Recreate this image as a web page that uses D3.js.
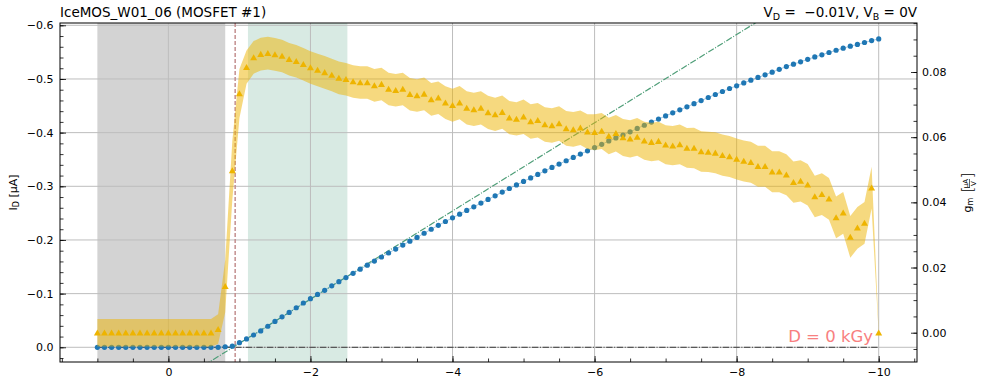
<!DOCTYPE html>
<html>
<head>
	<meta charset="utf-8">
	<script src="https://cdnjs.cloudflare.com/ajax/libs/d3/7.8.5/d3.min.js"></script>
	<style>
		html, body {
			padding: 0;
			margin: 0;
			background: white;
		}
		svg {
			display: block;
			font-family: "DejaVu Sans", sans-serif;
		}
	</style>
</head>
<body>
<script>
	var width = 996, height = 379;

	// ~ ~ ~ DATA ~ ~ ~
	var VG = [
		1.0, 0.9, 0.8, 0.7, 0.6, 0.5, 0.4, 0.3, 0.2, 0.1,
		0.0, -0.1, -0.2, -0.3, -0.4, -0.5, -0.6, -0.7, -0.8, -0.9,
		-1.0, -1.1, -1.2, -1.3, -1.4, -1.5, -1.6, -1.7, -1.8, -1.9,
		-2.0, -2.1, -2.2, -2.3, -2.4, -2.5, -2.6, -2.7, -2.8, -2.9,
		-3.0, -3.1, -3.2, -3.3, -3.4, -3.5, -3.6, -3.7, -3.8, -3.9,
		-4.0, -4.1, -4.2, -4.3, -4.4, -4.5, -4.6, -4.7, -4.8, -4.9,
		-5.0, -5.1, -5.2, -5.3, -5.4, -5.5, -5.6, -5.7, -5.8, -5.9,
		-6.0, -6.1, -6.2, -6.3, -6.4, -6.5, -6.6, -6.7, -6.8, -6.9,
		-7.0, -7.1, -7.2, -7.3, -7.4, -7.5, -7.6, -7.7, -7.8, -7.9,
		-8.0, -8.1, -8.2, -8.3, -8.4, -8.5, -8.6, -8.7, -8.8, -8.9,
		-9.0, -9.1, -9.2, -9.3, -9.4, -9.5, -9.6, -9.7, -9.8, -9.9,
		-10.0
	];

	// drain current [uA]
	var ID = [
		0, 0, 0, 0, 0, 0, 0, 0, 0, 0,
		0, 0, 0, 0, 0, 0, 0, 0, -0.001, -0.002,
		-0.0086, -0.0156, -0.0229, -0.0305, -0.0392, -0.0482, -0.0567, -0.0650, -0.0737, -0.0825,
		-0.0906, -0.0985, -0.1062, -0.1145, -0.1222, -0.1300, -0.1378, -0.1455, -0.1531, -0.1607,
		-0.1683, -0.1757, -0.1831, -0.1905, -0.1977, -0.2048, -0.2125, -0.2200, -0.2272, -0.2344,
		-0.2413, -0.2481, -0.2551, -0.2618, -0.2687, -0.2756, -0.2823, -0.2892, -0.2959, -0.3026,
		-0.3091, -0.3157, -0.3222, -0.3288, -0.3352, -0.3414, -0.3476, -0.3538, -0.3600, -0.3661,
		-0.3722, -0.3782, -0.3845, -0.3902, -0.3956, -0.4015, -0.4078, -0.4138, -0.4196, -0.4253,
		-0.4312, -0.4369, -0.4425, -0.4481, -0.4540, -0.4598, -0.4655, -0.4711, -0.4767, -0.4822,
		-0.4873, -0.4927, -0.4978, -0.5028, -0.5077, -0.5127, -0.5180, -0.5231, -0.5276, -0.5320,
		-0.5367, -0.5410, -0.5450, -0.5493, -0.5535, -0.5574, -0.5611, -0.5643, -0.5680, -0.5716,
		-0.5747
	];

	// transconductance [uA/V]
	var GM = [
		0, 0, 0, 0, 0, 0, 0, 0, 0, 0,
		0, 0, 0, 0, 0, 0, 0, 0.0011, 0.0143, 0.0498,
		0.0734, 0.0815, 0.0845, 0.0855, 0.0858, 0.0854, 0.0849, 0.0839, 0.0833, 0.0824,
		0.0814, 0.0806, 0.0799, 0.0791, 0.0782, 0.0778, 0.0771, 0.0768, 0.0768, 0.0759,
		0.0763, 0.0748, 0.0744, 0.0748, 0.0732, 0.0728, 0.0733, 0.0716, 0.0721, 0.0706,
		0.0698, 0.0706, 0.0690, 0.0685, 0.0690, 0.0676, 0.0670, 0.0677, 0.0660, 0.0656,
		0.0663, 0.0648, 0.0652, 0.0639, 0.0636, 0.0642, 0.0627, 0.0624, 0.0629, 0.0617,
		0.0615, 0.0619, 0.0604, 0.0612, 0.0599, 0.0595, 0.0601, 0.0589, 0.0585, 0.0588,
		0.0577, 0.0574, 0.0578, 0.0567, 0.0567, 0.0556, 0.0555, 0.0552, 0.0545, 0.0541,
		0.0533, 0.0527, 0.0523, 0.0511, 0.0511, 0.0494, 0.0494, 0.0485, 0.0462, 0.0466,
		0.0454, 0.0418, 0.0425, 0.0411, 0.0354, 0.0368, 0.0294, 0.0322, 0.0337, 0.0445,
		0.0
	];

	var GM_ERR = [
		0.0042, 0.0042, 0.0042, 0.0042, 0.0042, 0.0042, 0.0042, 0.0042, 0.0042, 0.0042,
		0.0042, 0.0042, 0.0042, 0.0042, 0.0042, 0.0042, 0.0042, 0.0046, 0.0080, 0.0090,
		0.0075, 0.0051, 0.0050, 0.0050, 0.0050, 0.0050, 0.0050, 0.0050, 0.0050, 0.0050,
		0.0050, 0.0050, 0.0050, 0.0050, 0.0050, 0.0050, 0.0050, 0.0050, 0.0050, 0.0050,
		0.0050, 0.0050, 0.0050, 0.0050, 0.0050, 0.0050, 0.0050, 0.0050, 0.0050, 0.0050,
		0.0051, 0.0051, 0.0051, 0.0051, 0.0051, 0.0051, 0.0051, 0.0051, 0.0051, 0.0051,
		0.0053, 0.0053, 0.0053, 0.0053, 0.0053, 0.0053, 0.0053, 0.0053, 0.0053, 0.0053,
		0.0055, 0.0055, 0.0056, 0.0056, 0.0057, 0.0057, 0.0058, 0.0058, 0.0059, 0.0059,
		0.0060, 0.0060, 0.0061, 0.0061, 0.0062, 0.0062, 0.0062, 0.0063, 0.0063, 0.0063,
		0.0063, 0.0063, 0.0063, 0.0063, 0.0063, 0.0063, 0.0063, 0.0063, 0.0063, 0.0063,
		0.0064, 0.0064, 0.0064, 0.0064, 0.0064, 0.0064, 0.0064, 0.0064, 0.0064, 0.0064,
		0.0005
	];

	var X_TICKS = [0, -2, -4, -6, -8, -10];
	var ID_TICKS = [0, -0.1, -0.2, -0.3, -0.4, -0.5, -0.6];
	var GM_TICKS = [0, 0.02, 0.04, 0.06, 0.08];

	var GRAY_SPAN = [1.0, -0.8];
	var GREEN_SPAN = [-1.12, -2.52];
	var VTH = -0.94;
	var FIT = { slope: 0.0822, vth: -0.91 };

	var TITLE = "IceMOS_W01_06 (MOSFET #1)";
	var DOSE_LABEL = "D = 0 kGy";

	// ~ ~ ~ COLORS ~ ~ ~
	var BLUE = "#1f77b4";
	var YELLOW = "#eeb400";
	var GRAY_FILL = "#d3d3d3";
	var GREEN_FILL = "#d8eae3";
	var GRID = "#bdbdbd";

	// ~ ~ ~ GEOMETRY ~ ~ ~
	var plot = { left: 60, right: 917, top: 23, bottom: 362 };

	var x = d3.scaleLinear().domain([1.526, -10.539]).range([plot.left, plot.right]);
	var yI = d3.scaleLinear().domain([0.0274, -0.6043]).range([plot.bottom, plot.top]);
	var yG = d3.scaleLinear().domain([-0.00899, 0.09504]).range([plot.bottom, plot.top]);

	var rows = VG.map(function(v, i) {
		return { vg: v, id: ID[i], gm: GM[i], err: GM_ERR[i] };
	});

	var svg = d3.select("body").append("svg")
		.attr("width", width)
		.attr("height", height);

	svg.append("clipPath").attr("id", "clip")
		.append("rect")
		.attr("x", plot.left)
		.attr("y", plot.top)
		.attr("width", plot.right - plot.left)
		.attr("height", plot.bottom - plot.top);

	var inner = svg.append("g").attr("clip-path", "url(#clip)");

	// shaded regions
	[[GRAY_SPAN, GRAY_FILL], [GREEN_SPAN, GREEN_FILL]].forEach(function(s) {
		inner.append("rect")
			.attr("x", x(s[0][0]))
			.attr("y", plot.top)
			.attr("width", x(s[0][1]) - x(s[0][0]))
			.attr("height", plot.bottom - plot.top)
			.attr("fill", s[1]);
	});

	// grid
	inner.selectAll(".gx").data(X_TICKS).enter().append("line")
		.attr("x1", function(d) { return x(d); })
		.attr("x2", function(d) { return x(d); })
		.attr("y1", plot.top).attr("y2", plot.bottom)
		.attr("stroke", GRID).attr("stroke-width", 1);
	inner.selectAll(".gy").data(ID_TICKS).enter().append("line")
		.attr("x1", plot.left).attr("x2", plot.right)
		.attr("y1", function(d) { return yI(d); })
		.attr("y2", function(d) { return yI(d); })
		.attr("stroke", GRID).attr("stroke-width", 1);

	// zero current line
	inner.append("line")
		.attr("x1", x(VG[0])).attr("x2", x(VG[VG.length - 1]))
		.attr("y1", yI(0)).attr("y2", yI(0))
		.attr("stroke", "#3a3a3a")
		.attr("stroke-width", 1)
		.attr("stroke-dasharray", "6.4,1.6,1,1.6");

	// linear fit at max gm
	var fitDomain = x.domain();
	inner.append("line")
		.attr("x1", x(fitDomain[0])).attr("y1", yI(FIT.slope * (fitDomain[0] - FIT.vth)))
		.attr("x2", x(fitDomain[1])).attr("y2", yI(FIT.slope * (fitDomain[1] - FIT.vth)))
		.attr("stroke", "#4f9e78")
		.attr("stroke-width", 1.2)
		.attr("stroke-dasharray", "6.4,1.6,1,1.6");

	// threshold voltage
	inner.append("line")
		.attr("x1", x(VTH)).attr("x2", x(VTH))
		.attr("y1", plot.top).attr("y2", plot.bottom)
		.attr("stroke", "#c48f8f")
		.attr("stroke-width", 1.5)
		.attr("stroke-dasharray", "4,2");

	// ID curve
	inner.append("path")
		.datum(rows)
		.attr("d", d3.line().x(function(d) { return x(d.vg); }).y(function(d) { return yI(d.id); }))
		.attr("fill", "none")
		.attr("stroke", BLUE)
		.attr("stroke-opacity", 0.4)
		.attr("stroke-width", 1);
	inner.selectAll(".dot").data(rows).enter().append("circle")
		.attr("cx", function(d) { return x(d.vg); })
		.attr("cy", function(d) { return yI(d.id); })
		.attr("r", 2.6)
		.attr("fill", BLUE);

	// gm band and markers
	inner.append("path")
		.datum(rows)
		.attr("d", d3.area()
			.x(function(d) { return x(d.vg); })
			.y0(function(d) { return yG(d.gm - d.err); })
			.y1(function(d) { return yG(d.gm + d.err); }))
		.attr("fill", YELLOW)
		.attr("fill-opacity", 0.5);

	var tri = d3.symbol().type(d3.symbolTriangle).size(21);
	inner.selectAll(".tri").data(rows).enter().append("path")
		.attr("d", tri)
		.attr("transform", function(d) { return "translate(" + x(d.vg) + "," + (yG(d.gm) + 0.8) + ")"; })
		.attr("fill", YELLOW);

	svg.append("text")
		.attr("x", 873).attr("y", 342)
		.attr("text-anchor", "end")
		.attr("font-size", 16.5)
		.attr("fill", "#f88080")
		.text(DOSE_LABEL);

	// ~ ~ ~ AXES ~ ~ ~
	var styleAxis = function(g) {
		g.select(".domain").remove();
		g.selectAll(".tick line").attr("stroke", "#000").attr("stroke-width", 0.8);
		g.selectAll(".tick text").attr("font-size", 11).attr("fill", "#000")
			.attr("font-family", "DejaVu Sans, sans-serif");
	};

	svg.append("g").attr("transform", "translate(" + plot.left + ",0)")
		.call(d3.axisLeft(yI).tickValues(ID_TICKS).tickFormat(d3.format(".1f"))
			.tickSize(-6).tickPadding(6.5))
		.call(styleAxis);
	svg.append("g").attr("transform", "translate(" + plot.left + ",0)")
		.call(d3.axisLeft(yI).tickValues(d3.range(0.02, -0.61, -0.02)).tickFormat("").tickSize(-3.5))
		.call(styleAxis);

	svg.append("g").attr("transform", "translate(" + plot.right + ",0)")
		.call(d3.axisRight(yG).tickValues(GM_TICKS).tickFormat(d3.format(".2f"))
			.tickSize(-6).tickPadding(5))
		.call(styleAxis);
	svg.append("g").attr("transform", "translate(" + plot.right + ",0)")
		.call(d3.axisRight(yG).tickValues(d3.range(-0.005, 0.0951, 0.005)).tickFormat("").tickSize(-3.5))
		.call(styleAxis);

	svg.append("g").attr("transform", "translate(0," + plot.bottom + ")")
		.call(d3.axisBottom(x).tickValues(X_TICKS).tickFormat(d3.format("d"))
			.tickSize(-6).tickPadding(6))
		.call(styleAxis);
	svg.append("g").attr("transform", "translate(0," + plot.bottom + ")")
		.call(d3.axisBottom(x).tickValues(d3.range(1.5, -10.6, -0.5)).tickFormat("").tickSize(-3.5))
		.call(styleAxis);

	// spines
	svg.append("rect")
		.attr("x", plot.left).attr("y", plot.top)
		.attr("width", plot.right - plot.left)
		.attr("height", plot.bottom - plot.top)
		.attr("fill", "none")
		.attr("stroke", "#000")
		.attr("stroke-width", 1);

	// ~ ~ ~ TITLES AND LABELS ~ ~ ~
	svg.append("text")
		.attr("x", plot.left).attr("y", 17)
		.attr("font-size", 13.5)
		.text(TITLE);

	var rt = svg.append("text")
		.attr("x", plot.right).attr("y", 17)
		.attr("text-anchor", "end")
		.attr("font-size", 13.5)
		.style("white-space", "pre");
	rt.append("tspan").text("V");
	rt.append("tspan").attr("font-size", 9.5).attr("dy", 3).text("D");
	rt.append("tspan").attr("dy", -3).text(" =  \u22120.01V, V");
	rt.append("tspan").attr("font-size", 9.5).attr("dy", 3).text("B");
	rt.append("tspan").attr("dy", -3).text(" = 0V");

	var yl = svg.append("text")
		.attr("transform", "translate(17," + ((plot.top + plot.bottom) / 2) + ") rotate(-90)")
		.attr("text-anchor", "middle")
		.attr("font-size", 11);
	yl.append("tspan").text("I");
	yl.append("tspan").attr("font-size", 8).attr("dy", 2).text("D");
	yl.append("tspan").attr("dy", -2).text(" [\u00b5A]");

	var gl = svg.append("g")
		.attr("transform", "translate(971," + ((plot.top + plot.bottom) / 2 + 1) + ") rotate(-90)");
	var gtxt = gl.append("text").attr("x", -19).attr("y", 0).attr("font-size", 11);
	gtxt.append("tspan").text("g");
	gtxt.append("tspan").attr("font-size", 8).attr("dy", 2).text("m");
	gl.append("text").attr("x", 1).attr("y", 2).attr("font-size", 15).attr("font-weight", 200).text("[");
	gl.append("text").attr("x", 10).attr("y", -3).attr("text-anchor", "middle").attr("font-size", 7).text("\u00b5A");
	gl.append("line").attr("x1", 5.5).attr("x2", 14.5).attr("y1", -1.5).attr("y2", -1.5)
		.attr("stroke", "#000").attr("stroke-width", 0.6);
	gl.append("text").attr("x", 10).attr("y", 5).attr("text-anchor", "middle").attr("font-size", 7).text("V");
	gl.append("text").attr("x", 15).attr("y", 2).attr("font-size", 15).attr("font-weight", 200).text("]");
</script>
</body>
</html>
